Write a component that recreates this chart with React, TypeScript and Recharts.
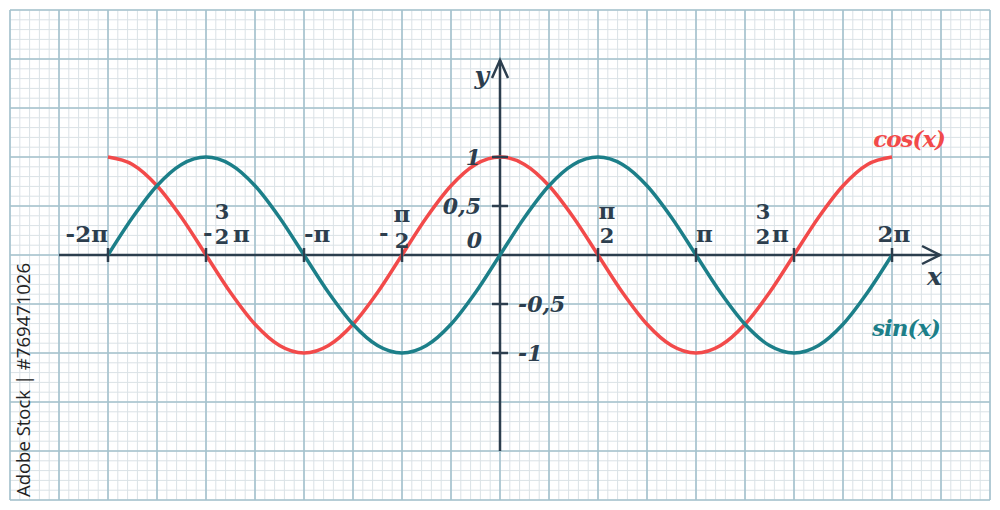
import React from "react";
import {CartesianGrid, Line, LineChart, ReferenceDot, ReferenceLine, XAxis, YAxis} from "recharts";

// x is measured in multiples of π
const xs = [-2, -1.875, -1.75, -1.625, -1.5, -1.375, -1.25, -1.125, -1, -0.875, -0.75, -0.625, -0.5, -0.375, -0.25, -0.125,
    0, 0.125, 0.25, 0.375, 0.5, 0.625, 0.75, 0.875, 1, 1.125, 1.25, 1.375, 1.5, 1.625, 1.75, 1.875, 2];
const sinValues = [0, 0.383, 0.707, 0.924, 1, 0.924, 0.707, 0.383, 0, -0.383, -0.707, -0.924, -1, -0.924, -0.707, -0.383,
    0, 0.383, 0.707, 0.924, 1, 0.924, 0.707, 0.383, 0, -0.383, -0.707, -0.924, -1, -0.924, -0.707, -0.383, 0];
const cosValues = [1, 0.924, 0.707, 0.383, 0, -0.383, -0.707, -0.924, -1, -0.924, -0.707, -0.383, 0, 0.383, 0.707, 0.924,
    1, 0.924, 0.707, 0.383, 0, -0.383, -0.707, -0.924, -1, -0.924, -0.707, -0.383, 0, 0.383, 0.707, 0.924, 1];

const xTickValues = [-2, -1.5, -1, -0.5, 0.5, 1, 1.5, 2];
const xTickLabels = ['-2π', '-3/2π', '-π', '-π/2', 'π/2', 'π', '3/2π', '2π'];
const yTickValues = [1, 0.5, -0.5, -1];
const yTickLabels = ['1', '0,5', '-0,5', '-1'];

const data = xs.map((x, i) => ({x, sin: sinValues[i], cos: cosValues[i]}));

const W = 1000;
const H = 510;
const M = 10;
const minorX = Array.from({length: 101}, (_, i) => M + i * 9.8);
const minorY = Array.from({length: 51}, (_, i) => M + i * 9.8);
const majorX = Array.from({length: 21}, (_, i) => M + i * 49);
const majorY = Array.from({length: 11}, (_, i) => M + i * 49);

const RED = '#f24a4a';
const TEAL = '#1c7f89';
const INK = '#2c3e4e';
const FONT = '"DejaVu Serif", serif';

const T = (props: any) => (
    <text fill={INK} fontFamily={FONT} fontWeight="bold" fontSize={23} {...props}/>
);

// pieces of each x tick label, offsets relative to the tick (fractions are stacked, no bar)
const renderXLabel = (label: string, cx: number, cy: number) => {
    const base = cy - 13;
    switch (label) {
        case '-2π':
            return <T x={cx} y={base} textAnchor="end">-2π</T>;
        case '-3/2π':
            return <g>
                <T x={cx - 3} y={base - 1}>-</T>
                <T x={cx + 16} y={base - 23} textAnchor="middle" fontSize={21}>3</T>
                <T x={cx + 16} y={base + 2} textAnchor="middle" fontSize={21}>2</T>
                <T x={cx + 27} y={base}>π</T>
            </g>;
        case '-π':
            return <T x={cx} y={base}>-π</T>;
        case '-π/2':
            return <g>
                <T x={cx - 23} y={base - 1}>-</T>
                <T x={cx} y={base - 20} textAnchor="middle">π</T>
                <T x={cx} y={base + 6} textAnchor="middle" fontSize={21}>2</T>
            </g>;
        case 'π/2':
            return <g>
                <T x={cx + 9} y={base - 23} textAnchor="middle">π</T>
                <T x={cx + 9} y={base + 1} textAnchor="middle" fontSize={21}>2</T>
            </g>;
        case 'π':
            return <T x={cx} y={base}>π</T>;
        case '3/2π':
            return <g>
                <T x={cx - 31} y={base - 23} textAnchor="middle" fontSize={21}>3</T>
                <T x={cx - 31} y={base + 2} textAnchor="middle" fontSize={21}>2</T>
                <T x={cx - 22} y={base}>π</T>
            </g>;
        default:
            return <T x={cx + 2} y={base} textAnchor="middle">{label}</T>;
    }
};

export default function App() {
    return (
        <div style={{position: 'absolute', left: 0, top: 0, width: W, height: H, background: '#fff'}}>
            <LineChart width={W} height={H} data={data} margin={{top: M, right: M, bottom: M, left: M}}>
                <XAxis type="number" dataKey="x" domain={[-2.5, 2.5]} hide/>
                <YAxis type="number" domain={[-2.5, 2.5]} hide/>
                <CartesianGrid stroke="#dae2e6" strokeWidth={1} verticalPoints={minorX} horizontalPoints={minorY}/>
                <CartesianGrid stroke="#a4c2cd" strokeWidth={1.6} verticalPoints={majorX} horizontalPoints={majorY}/>

                {/* axes */}
                <ReferenceLine segment={[{x: -2.25, y: 0}, {x: 2.245, y: 0}]} stroke={INK} strokeWidth={2.5}/>
                <ReferenceLine segment={[{x: 0, y: -2}, {x: 0, y: 1.99}]} stroke={INK} strokeWidth={2.5}/>

                <Line dataKey="cos" type="monotone" stroke={RED} strokeWidth={3.5} dot={false} isAnimationActive={false}/>
                <Line dataKey="sin" type="monotone" stroke={TEAL} strokeWidth={3.5} dot={false} isAnimationActive={false}/>

                {/* arrow heads and axis names */}
                <ReferenceDot x={2.245} y={0} r={0} shape={(p: any) => (
                    <g>
                        <path d={`M${p.cx - 18},${p.cy - 9} L${p.cx},${p.cy} L${p.cx - 18},${p.cy + 9}`}
                              fill="none" stroke={INK} strokeWidth={2.5}/>
                        <T x={p.cx - 13} y={p.cy + 30} fontStyle="italic" fontSize={25}>x</T>
                    </g>
                )}/>
                <ReferenceDot x={0} y={1.99} r={0} shape={(p: any) => (
                    <g>
                        <path d={`M${p.cx - 8},${p.cy + 18} L${p.cx},${p.cy} L${p.cx + 8},${p.cy + 18}`}
                              fill="none" stroke={INK} strokeWidth={2.5}/>
                        <T x={p.cx - 11} y={p.cy + 24} textAnchor="end" fontStyle="italic" fontSize={25}>y</T>
                    </g>
                )}/>

                {xTickValues.map((v, i) => (
                    <ReferenceDot key={`xt-${i}`} x={v} y={0} r={0} shape={(p: any) => (
                        <g>
                            <line x1={p.cx} x2={p.cx} y1={p.cy - 7} y2={p.cy + 7} stroke={INK} strokeWidth={2.5}/>
                            {renderXLabel(xTickLabels[i], p.cx, p.cy)}
                        </g>
                    )}/>
                ))}
                {yTickValues.map((v, i) => (
                    <ReferenceDot key={`yt-${i}`} x={0} y={v} r={0} shape={(p: any) => (
                        <g>
                            <line x1={p.cx - 8} x2={p.cx + 8} y1={p.cy} y2={p.cy} stroke={INK} strokeWidth={2.5}/>
                            {v > 0
                                ? <T x={p.cx - 19} y={p.cy + 8} textAnchor="end" fontStyle="italic" fontSize={22}>{yTickLabels[i]}</T>
                                : <T x={p.cx + 18} y={p.cy + 8} fontStyle="italic" fontSize={22}>{yTickLabels[i]}</T>}
                        </g>
                    )}/>
                ))}
                <ReferenceDot x={0} y={0} r={0} shape={(p: any) => (
                    <T x={p.cx - 18} y={p.cy - 7} textAnchor="end" fontStyle="italic" fontSize={22}>0</T>
                )}/>

                {/* curve names */}
                <ReferenceDot x={2} y={1} r={0} shape={(p: any) => (
                    <text x={p.cx + 53} y={p.cy - 10} textAnchor="end" fill={RED} fontFamily={FONT}
                          fontWeight="bold" fontStyle="italic" fontSize={23} letterSpacing={-1}>cos(x)</text>
                )}/>
                <ReferenceDot x={2} y={-0.5} r={0} shape={(p: any) => (
                    <text x={p.cx + 48} y={p.cy + 32} textAnchor="end" fill={TEAL} fontFamily={FONT}
                          fontWeight="bold" fontStyle="italic" fontSize={23} letterSpacing={-1}>sin(x)</text>
                )}/>
            </LineChart>
            <div style={{
                position: 'absolute', left: 22, top: 380, transform: 'translate(-50%, -50%) rotate(-90deg)',
                whiteSpace: 'nowrap', fontFamily: '"Open Sans", sans-serif', fontSize: 18.5, color: '#222'
            }}>Adobe Stock | #769471026
            </div>
        </div>
    );
}
